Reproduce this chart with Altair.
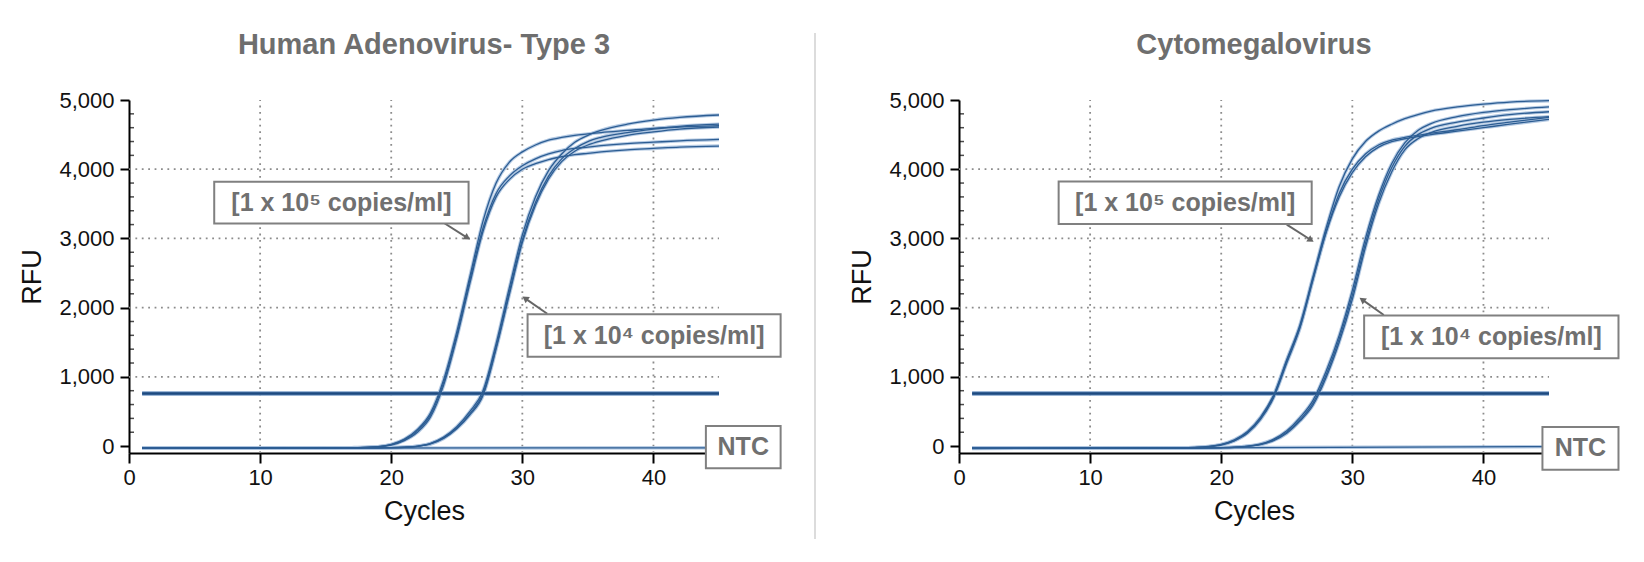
import math
import altair as alt
import pandas as pd

# ---------------- data ----------------
CYCLES = [1, 5, 10, 15, 17, 18, 19, 20, 21, 22, 23, 24, 25, 26, 27, 28, 29, 30,
          31, 32, 33, 34, 35, 36, 38, 40, 42, 45]

# Human Adenovirus - Type 3
hadv_1e5_a = [-30, -28, -27, -25, -22, -18, -8, 25, 100, 240, 480, 960, 1650, 2450, 3250, 3800, 4100, 4250,
              4350, 4420, 4460, 4490, 4510, 4530, 4560, 4590, 4610, 4630]
hadv_1e5_b = [-30, -28, -27, -25, -23, -19, -10, 20, 90, 220, 450, 920, 1600, 2400, 3150, 3650, 3900, 4050,
              4150, 4220, 4270, 4300, 4320, 4340, 4370, 4390, 4410, 4430]
hadv_1e5_c = [-30, -28, -27, -25, -23, -20, -12, 15, 80, 200, 420, 880, 1560, 2350, 3100, 3600, 3850, 4000,
              4080, 4140, 4180, 4210, 4230, 4250, 4280, 4300, 4320, 4335]
hadv_1e4_a = [-30, -28, -27, -25, -25, -25, -24, -22, -15, 0, 40, 130, 280, 500, 800, 1480, 2280, 3050,
              3600, 3980, 4220, 4390, 4490, 4560, 4650, 4710, 4750, 4783]
hadv_1e4_b = [-30, -28, -27, -25, -25, -25, -24, -23, -17, -3, 35, 120, 260, 470, 760, 1430, 2220, 2980,
              3520, 3900, 4150, 4300, 4400, 4460, 4530, 4580, 4620, 4650]
hadv_1e4_c = [-30, -28, -27, -25, -25, -25, -24, -23, -18, -5, 30, 110, 250, 450, 730, 1400, 2180, 2940,
              3480, 3860, 4110, 4260, 4350, 4410, 4490, 4540, 4580, 4610]

# Cytomegalovirus
cmv_1e5_a = [-30, -30, -30, -28, -25, -18, -5, 25, 90, 210, 420, 740, 1250, 1750, 2450, 3150, 3750, 4150,
             4400, 4550, 4650, 4730, 4790, 4840, 4900, 4940, 4970, 4990]
cmv_1e5_b = [-32, -32, -31, -29, -26, -20, -8, 20, 80, 195, 400, 720, 1230, 1720, 2420, 3100, 3650, 4000,
             4220, 4350, 4420, 4460, 4490, 4520, 4570, 4630, 4680, 4750]
cmv_1e5_c = [-33, -33, -32, -30, -27, -22, -10, 15, 75, 185, 385, 700, 1200, 1700, 2400, 3080, 3600, 3950,
             4180, 4320, 4400, 4440, 4470, 4500, 4550, 4600, 4650, 4720]
cmv_1e4_a = [-30, -30, -30, -29, -28, -27, -25, -22, -15, 0, 30, 100, 220, 410, 660, 1080, 1600, 2250,
             3000, 3620, 4080, 4380, 4560, 4660, 4760, 4820, 4860, 4900]
cmv_1e4_b = [-31, -31, -31, -30, -29, -28, -26, -23, -17, -3, 25, 90, 200, 380, 620, 1030, 1550, 2180,
             2930, 3560, 4020, 4330, 4500, 4590, 4680, 4740, 4790, 4830]
cmv_1e4_c = [-32, -32, -32, -31, -30, -29, -27, -24, -18, -5, 20, 80, 185, 360, 590, 990, 1500, 2120,
             2870, 3500, 3960, 4280, 4440, 4530, 4620, 4680, 4720, 4760]

NTC_CYCLES = [1, 45]
hadv_ntc = [-30, -25]
cmv_ntc = [-35, -8]

THRESHOLD_CYCLES = [1, 45]
hadv_threshold = 760
cmv_threshold = 760

X_TICKS = [0, 10, 20, 30, 40]
Y_TICKS = [0, 1000, 2000, 3000, 4000, 5000]
GRID_X = [10, 20, 30, 40]
GRID_Y = [1000, 2000, 3000, 4000]
MINOR_Y = [v for v in range(200, 5000, 200) if v % 1000]

LABEL_1E5 = "[1 x 10\u2075 copies/ml]"
LABEL_1E4 = "[1 x 10\u2074 copies/ml]"
LABEL_NTC = "NTC"

# ---------------- layout / style ----------------
X_DOMAIN = [0, 45]
Y_DOMAIN = [-100, 5000]
W, H = 590, 353
PXC = W / (X_DOMAIN[1] - X_DOMAIN[0])
PXR = H / (Y_DOMAIN[1] - Y_DOMAIN[0])

FONT = "Liberation Sans"
LINE_CORE = "#2c5d93"
LINE_HALO = "#adc4e0"
ANN_GRAY = "#707070"
BOX_GRAY = "#808080"
GRID_GRAY = "#8c8c8c"

LEFT_ANN = dict(
    box5=(6.5, 25.9, 3215, 3820), arrow5=((24.0, 3227), (26.07, 2977)),
    box4=(30.4, 49.7, 1290, 1903), arrow4=((31.9, 1912), (29.96, 2168)),
    ntc=(44.0, 49.7, -322, 289),
)
RIGHT_ANN = dict(
    box5=(7.6, 26.9, 3210, 3824), arrow5=((25.0, 3200), (27.1, 2946)),
    box4=(30.9, 50.3, 1269, 1885), arrow4=((32.4, 1894), (30.5, 2149)),
    ntc=(44.5, 50.3, -341, 274),
)


def xenc():
    return alt.X("cycle:Q", title="Cycles",
                 scale=alt.Scale(domain=X_DOMAIN, nice=False, zero=False),
                 axis=alt.Axis(values=X_TICKS, format="d", grid=False, tickSize=10, tickWidth=2,
                               tickColor="black", domainColor="black", domainWidth=2,
                               labelFont=FONT, labelFontSize=22, labelColor="#111",
                               labelPadding=4, labelFlush=False,
                               titleFont=FONT, titleFontSize=27, titleFontWeight="normal",
                               titleColor="#111", titlePadding=10))


def yenc():
    return alt.Y("rfu:Q", title="RFU",
                 scale=alt.Scale(domain=Y_DOMAIN, nice=False, zero=False),
                 axis=alt.Axis(values=Y_TICKS, format=",d", grid=False, tickSize=9, tickWidth=2,
                               tickColor="black", domainColor="black", domainWidth=2,
                               labelFont=FONT, labelFontSize=22, labelColor="#111",
                               labelPadding=6, labelFlush=False,
                               titleFont=FONT, titleFontSize=27, titleFontWeight="normal",
                               titleColor="#111", titlePadding=12))


def arrow_parts(start, tip, back=4.0):
    dxp = (tip[0] - start[0]) * PXC
    dyp = -(tip[1] - start[1]) * PXR
    L = math.hypot(dxp, dyp)
    ang = math.degrees(math.atan2(dxp, -dyp)) % 360
    cx = tip[0] - back * dxp / L / PXC
    cy = tip[1] + back * dyp / L / PXR
    return (cx, cy), ang


def panel(title, curves, ntc, threshold, ann):
    rows = []
    for name, vals in curves.items():
        for c, v in zip(CYCLES, vals):
            rows.append({"cycle": c, "rfu": v, "series": name})
    for c, v in zip(NTC_CYCLES, ntc):
        rows.append({"cycle": c, "rfu": v, "series": "NTC"})
    df = pd.DataFrame(rows)

    thr = pd.DataFrame({"cycle": THRESHOLD_CYCLES, "rfu": [threshold] * len(THRESHOLD_CYCLES)})
    gy = pd.DataFrame({"rfu": GRID_Y, "cycle": X_DOMAIN[0], "cycle2": X_DOMAIN[1]})
    gx = pd.DataFrame({"cycle": GRID_X, "rfu": Y_DOMAIN[0], "rfu2": Y_DOMAIN[1]})
    minor = pd.DataFrame({"rfu": MINOR_Y})

    boxes = pd.DataFrame([
        {"cycle": ann[k][0], "cycle2": ann[k][1], "rfu": ann[k][2], "rfu2": ann[k][3]}
        for k in ("box5", "box4", "ntc")
    ])
    texts = pd.DataFrame([
        {"cycle": (ann[k][0] + ann[k][1]) / 2, "rfu": (ann[k][2] + ann[k][3]) / 2, "label": lab}
        for k, lab in (("box5", LABEL_1E5), ("box4", LABEL_1E4), ("ntc", LABEL_NTC))
    ])
    arows, heads = [], []
    for k in ("arrow5", "arrow4"):
        start, tip = ann[k]
        (hx, hy), ang = arrow_parts(start, tip)
        arows.append({"cycle": start[0], "rfu": start[1], "cycle2": hx, "rfu2": hy})
        heads.append({"cycle": hx, "rfu": hy, "angle": ang})
    arrows = pd.DataFrame(arows)
    heads = pd.DataFrame(heads)

    grid_h = alt.Chart(gy).mark_rule(color=GRID_GRAY, strokeWidth=1.8, strokeDash=[1.8, 4.6]).encode(
        x=xenc(), x2="cycle2:Q", y=yenc())
    grid_v = alt.Chart(gx).mark_rule(color=GRID_GRAY, strokeWidth=1.8, strokeDash=[1.8, 4.6]).encode(
        x=xenc(), y=yenc(), y2="rfu2:Q")
    minor_t = alt.Chart(minor).mark_tick(orient="horizontal", size=4, thickness=1.5, color="black").encode(
        y=yenc(), x=alt.value(3))

    halo = alt.Chart(df).mark_line(color=LINE_HALO, strokeWidth=3.4, interpolate="monotone", opacity=0.9).encode(
        x=xenc(), y=yenc(), detail="series:N")
    core = alt.Chart(df).mark_line(color=LINE_CORE, strokeWidth=1.3, interpolate="monotone").encode(
        x=xenc(), y=yenc(), detail="series:N")
    thr_halo = alt.Chart(thr).mark_line(color="#7d9fc8", strokeWidth=4.5).encode(x=xenc(), y=yenc())
    thr_core = alt.Chart(thr).mark_line(color="#1d4a80", strokeWidth=2.4).encode(x=xenc(), y=yenc())

    box_l = alt.Chart(boxes).mark_rect(fill="white", stroke=BOX_GRAY, strokeWidth=2).encode(
        x=xenc(), x2="cycle2:Q", y=yenc(), y2="rfu2:Q")
    text_l = alt.Chart(texts).mark_text(font=FONT, fontSize=25, fontWeight="bold", color=ANN_GRAY,
                                        baseline="middle", align="center").encode(
        x=xenc(), y=yenc(), text="label:N")
    arrow_l = alt.Chart(arrows).mark_rule(color="#666666", strokeWidth=2).encode(
        x=xenc(), y=yenc(), x2="cycle2:Q", y2="rfu2:Q")
    head_l = alt.Chart(heads).mark_point(shape="triangle-up", filled=True, size=55, color="#666666",
                                         opacity=1).encode(
        x=xenc(), y=yenc(), angle=alt.Angle("angle:Q", scale=None))

    return alt.layer(grid_h, grid_v, minor_t, thr_halo, halo, thr_core, core,
                     arrow_l, head_l, box_l, text_l).properties(
        width=W, height=H,
        title=alt.TitleParams(title, font=FONT, fontSize=29, fontWeight="bold", color="#6e6e6e",
                              anchor="middle", frame="group", offset=29))


left = panel("Human Adenovirus- Type 3",
             {"a5": hadv_1e5_a, "b5": hadv_1e5_b, "c5": hadv_1e5_c,
              "a4": hadv_1e4_a, "b4": hadv_1e4_b, "c4": hadv_1e4_c},
             hadv_ntc, hadv_threshold, LEFT_ANN)
right = panel("Cytomegalovirus",
              {"a5": cmv_1e5_a, "b5": cmv_1e5_b, "c5": cmv_1e5_c,
               "a4": cmv_1e4_a, "b4": cmv_1e4_b, "c4": cmv_1e4_c},
              cmv_ntc, cmv_threshold, RIGHT_ANN)

sep = alt.Chart(pd.DataFrame({"k": [0]})).mark_rule(color="#d0d0d0", strokeWidth=1.5).encode(
    x=alt.value(0), y=alt.value(-67), y2=alt.value(439)).properties(width=1, height=H)

chart = alt.hconcat(left, sep, right, spacing=32).properties(
    padding={"left": 10, "top": 23, "right": 5, "bottom": 5},
    background="white",
).configure_view(stroke=None)

chart.save("out.html", embed_options={"renderer": "svg", "actions": False})
